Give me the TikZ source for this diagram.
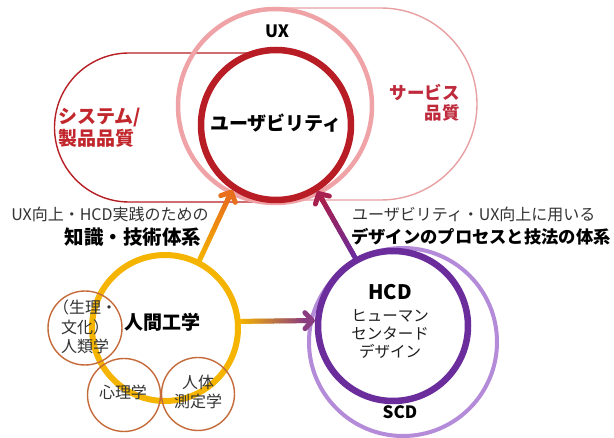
\documentclass[tikz,border=0pt]{standalone}
\usepackage{fontspec}
\setmainfont{Noto Sans CJK JP}
\usetikzlibrary{arrows.meta,calc}
\definecolor{uxpink}{HTML}{EFA3A6}
\definecolor{pillpink}{HTML}{E9A0A3}
\definecolor{pillred}{HTML}{B62025}
\definecolor{ured}{HTML}{B81C24}
\definecolor{redtxt}{HTML}{C1272D}
\definecolor{svctxt}{HTML}{BE2A3C}
\definecolor{yring}{HTML}{F5B400}
\definecolor{ytip}{HTML}{E8701C}
\definecolor{hpurple}{HTML}{6B2D9C}
\definecolor{ptip}{HTML}{A8204E}
\definecolor{htip}{HTML}{8A3C80}
\definecolor{scd}{HTML}{B38BD9}
\definecolor{smallc}{HTML}{C56B3A}
\definecolor{txtgray}{HTML}{333333}
\definecolor{txtdark}{HTML}{1E1E1E}
\newcommand{\gradarrow}[4]{%
  \foreach \gi in {0,...,23}{%
    \pgfmathsetmacro{\ga}{\gi/24*0.9}%
    \pgfmathsetmacro{\gb}{(\gi+1)/24*0.9}%
    \pgfmathtruncatemacro{\gp}{100*\gi/23}%
    \draw[line width=5pt, line cap=round, draw={#4!\gp!#3}] ($(#1)!\ga!(#2)$) -- ($(#1)!\gb!(#2)$);
  }%
  \draw[line width=5pt, draw=#4, -{Straight Barb[round,length=7.5pt,width=16pt]}] ($(#1)!0.85!(#2)$) -- (#2);
}
\begin{document}
\begin{tikzpicture}[x=1pt,y=-1pt,
  ring/.style={circle, inner sep=0pt, fill=none},
  bigtxt/.style={font=\fontsize{19}{22}\selectfont\bfseries},
  smalltxt/.style={font=\fontsize{16}{19.5}\selectfont, text=txtgray, align=center, inner sep=0pt}]
\fill[white] (0,0) rectangle (614,438);
\useasboundingbox (0,0) rectangle (614,438);
% pills
\draw[pillred, line width=1.4pt] (256,53) -- (129,53) arc[start angle=-90, end angle=-270, radius=74.5] -- (280,202);
\draw[pillpink, line width=1.4pt] (280,8) -- (381,8) arc[start angle=-90, end angle=90, radius=96] -- (300,200);
% UX circles
\node[ring, minimum size=194pt, draw=uxpink, line width=4.5pt] (X) at (275,106) {};
\node[ring, minimum size=150pt, draw=ured, line width=6.5pt] (U) at (276,125) {};
% bottom circles
\node[ring, minimum size=146pt, draw=yring, line width=6pt] (Y) at (165,328) {};
\node[ring, minimum size=74pt, draw=smallc, line width=1.4pt] (A1) at (85,328) {};
\node[ring, minimum size=73pt, draw=smallc, line width=1.4pt] (A2) at (124,395) {};
\node[ring, minimum size=73pt, draw=smallc, line width=1.4pt] (A3) at (198,394) {};
\node[ring, minimum size=188pt, draw=scd, line width=4pt] (S) at (403,342) {};
\node[ring, minimum size=150pt, draw=hpurple, line width=6.5pt] (H) at (393,326) {};
% arrows
\gradarrow{Y.63}{U.236}{yring}{ytip}
\gradarrow{H.119}{U.302}{hpurple}{ptip}
\gradarrow{Y.5}{H.176}{yring}{htip}
% texts
\node[font=\fontsize{17}{20}\selectfont\bfseries, inner sep=0pt] (tUX) at (277,31) {UX};
\node[bigtxt, inner sep=0pt] (tU) at (276,123) {ユーザビリティ};
\node[bigtxt, text=redtxt, align=left, anchor=west, inner sep=0pt] (tSys) at (58,128) {システム/\\製品品質};
\node[font=\fontsize{17.5}{20}\selectfont\bfseries, text=svctxt, align=right, anchor=east, inner sep=0pt] (tSvc) at (460,103) {サービス\\品質};
\node[font=\fontsize{16}{19}\selectfont, text=txtgray, inner sep=0pt] (tL1) at (110,214) {UX向上・HCD実践のための};
\node[font=\fontsize{19.5}{22}\selectfont\bfseries, inner sep=0pt] (tL2) at (133,237) {知識・技術体系};
\node[font=\fontsize{16}{19}\selectfont, text=txtgray, anchor=west, inner sep=0pt] (tR1) at (352,214) {ユーザビリティ・UX向上に用いる};
\node[font=\fontsize{17.3}{20}\selectfont\bfseries, anchor=west, inner sep=0pt] (tR2) at (351,237) {デザインのプロセスと技法の体系};
\node[bigtxt, inner sep=0pt] (tY) at (162,322) {人間工学};
\node[smalltxt] (tA1) at (85,327) {（生理・\\文化）\\人類学};
\node[smalltxt] (tA2) at (123,392) {心理学};
\node[smalltxt] (tA3) at (198,392) {人体\\測定学};
\node[font=\fontsize{20}{22}\selectfont\bfseries, inner sep=0pt] (tH) at (390,292) {HCD};
\node[font=\fontsize{15.5}{18}\selectfont, text=txtdark, align=center, inner sep=0pt] (tH2) at (390,334) {ヒューマン\\センタード\\デザイン};
\node[font=\fontsize{17}{20}\selectfont\bfseries, inner sep=0pt] (tS) at (400,412) {SCD};
\end{tikzpicture}
\end{document}
